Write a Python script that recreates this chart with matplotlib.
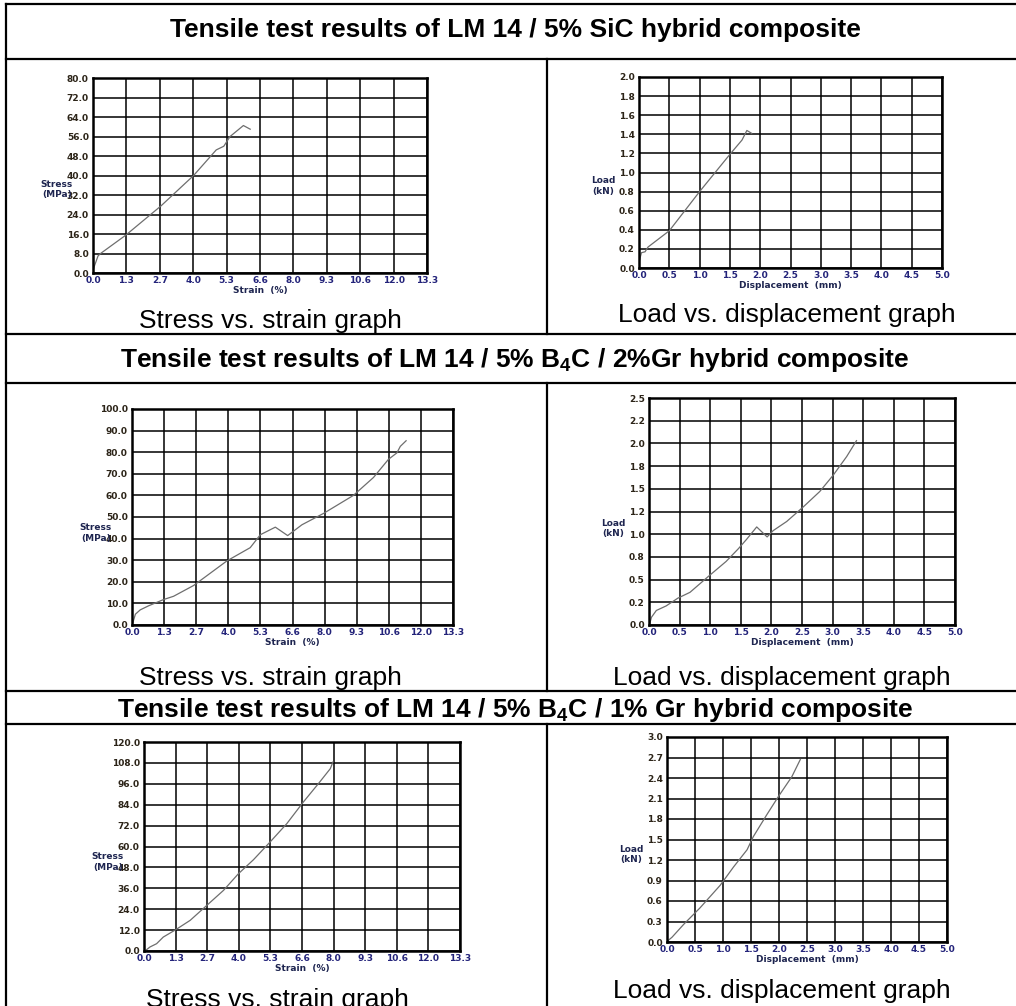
import numpy as np
import matplotlib
matplotlib.use('Agg')
import matplotlib.pyplot as plt
from matplotlib.lines import Line2D

plt.rcParams['mathtext.fontset'] = 'custom'
plt.rcParams['mathtext.rm'] = 'Liberation Sans'
plt.rcParams['mathtext.bf'] = 'Liberation Sans:bold'

W, H = 1016, 1006

# --- row titles and captions ---
titles = [
    'Tensile test results of LM 14 / 5% SiC hybrid composite',
    r'Tensile test results of LM 14 / 5% B$_\mathbf{4}$C / 2%Gr hybrid composite',
    r'Tensile test results of LM 14 / 5% B$_\mathbf{4}$C / 1% Gr hybrid composite',
]
cap_stress = 'Stress vs. strain graph'
cap_load = 'Load vs. displacement graph'

# --- tick labels ---
strain_ticks = ['0.0', '1.3', '2.7', '4.0', '5.3', '6.6', '8.0', '9.3', '10.6', '12.0', '13.3']
disp_ticks = ['0.0', '0.5', '1.0', '1.5', '2.0', '2.5', '3.0', '3.5', '4.0', '4.5', '5.0']
stress_ticks_sic = ['0.0', '8.0', '16.0', '24.0', '32.0', '40.0', '48.0', '56.0', '64.0', '72.0', '80.0']
stress_ticks_gr2 = ['0.0', '10.0', '20.0', '30.0', '40.0', '50.0', '60.0', '70.0', '80.0', '90.0', '100.0']
stress_ticks_gr1 = ['0.0', '12.0', '24.0', '36.0', '48.0', '60.0', '72.0', '84.0', '96.0', '108.0', '120.0']
load_ticks_sic = ['0.0', '0.2', '0.4', '0.6', '0.8', '1.0', '1.2', '1.4', '1.6', '1.8', '2.0']
load_ticks_gr2 = ['0.0', '0.2', '0.5', '0.8', '1.0', '1.2', '1.5', '1.8', '2.0', '2.2', '2.5']
load_ticks_gr1 = ['0.0', '0.3', '0.6', '0.9', '1.2', '1.5', '1.8', '2.1', '2.4', '2.7', '3.0']

# --- curves ---
# LM 14 / 5% SiC
strain_sic = [0.03, 0.05, 0.2, 0.3, 1.3, 2.7, 4.0, 4.9, 5.2, 5.45, 5.98, 6.25]
stress_sic = [2.0, 2.7, 7.0, 8.0, 15.5, 27.5, 40.0, 50.5, 52.0, 56.0, 60.5, 59.0]
disp_sic = [0.0, 0.04, 0.1, 0.15, 0.5, 1.0, 1.5, 1.7, 1.78, 1.86]
load_sic = [0.06, 0.16, 0.17, 0.22, 0.39, 0.80, 1.19, 1.34, 1.44, 1.41]

# LM 14 / 5% B4C / 2% Gr
strain_gr2 = [0.02, 0.14, 0.34, 0.69, 1.31, 1.72, 2.55, 3.93, 4.89, 5.31, 5.93, 6.44,
              7.03, 7.93, 9.16, 9.99, 10.61, 10.96, 11.1, 11.34]
stress_gr2 = [0.5, 5.0, 7.0, 8.9, 11.8, 13.3, 18.3, 29.7, 35.8, 41.8, 45.3, 41.4,
              46.4, 51.7, 60.0, 68.3, 76.7, 79.7, 82.7, 85.3]
disp_gr2 = [0.01, 0.04, 0.12, 0.28, 0.47, 0.67, 0.97, 1.26, 1.46, 1.59, 1.76, 1.93,
            2.03, 2.25, 2.52, 2.79, 3.01, 3.23, 3.39]
load_gr2 = [0.01, 0.085, 0.16, 0.21, 0.295, 0.36, 0.535, 0.70, 0.84, 0.94, 1.08, 0.97,
            1.04, 1.14, 1.30, 1.47, 1.65, 1.855, 2.03]

# LM 14 / 5% B4C / 1% Gr
strain_gr1 = [0.04, 0.25, 0.53, 0.81, 1.33, 1.94, 2.64, 3.34, 3.97, 4.6, 5.3, 6.0,
              6.7, 7.33, 7.83, 7.94]
stress_gr1 = [0.0, 2.3, 4.2, 8.0, 12.2, 17.6, 26.2, 34.8, 44.4, 52.4, 62.6, 73.1,
              85.6, 96.1, 104.7, 108.5]
disp_gr1 = [0.01, 0.09, 0.30, 0.59, 0.95, 1.19, 1.43, 1.54, 1.78, 1.99, 2.23, 2.38]
load_gr1 = [0.015, 0.07, 0.26, 0.50, 0.83, 1.10, 1.35, 1.54, 1.86, 2.13, 2.42, 2.67]

fig = plt.figure(figsize=(W / 100, H / 100), dpi=100)


def fx(px):
    return px / W


def fy(py):
    return 1 - py / H


def hline(y, x0=6, x1=1016):
    fig.add_artist(Line2D([fx(x0), fx(x1)], [fy(y), fy(y)], color='black', lw=1.6))


def vline(x, y0, y1):
    fig.add_artist(Line2D([fx(x), fx(x)], [fy(y0), fy(y1)], color='black', lw=1.6))


def panel(box, x, y, xmax, ymax, xticks, yticks, xlabel, ylabel):
    left, right, top, bottom = box
    ax = fig.add_axes([fx(left), fy(bottom), fx(right - left), (bottom - top) / H])
    ax.plot(x, y, color='#6e6e6e', lw=0.9)
    ax.set_xlim(0, xmax)
    ax.set_ylim(0, ymax)
    ax.set_xticks(np.linspace(0, xmax, 11))
    ax.set_xticklabels(xticks)
    ax.set_yticks(np.linspace(0, ymax, 11))
    ax.set_yticklabels(yticks)
    ax.grid(True, color='black', lw=1.1)
    ax.tick_params(length=0, labelsize=6.5)
    ax.tick_params(axis='x', pad=2, labelcolor='#23237a')
    ax.tick_params(axis='y', pad=3, labelcolor='#2c2418')
    for lab in ax.get_xticklabels() + ax.get_yticklabels():
        lab.set_fontweight('bold')
    for s in ax.spines.values():
        s.set_linewidth(1.8)
    ax.set_xlabel(xlabel, fontsize=6.5, fontweight='bold', color='#1e2550', labelpad=1)
    ax.annotate(ylabel, xy=(0, 0.4), xycoords='axes fraction', xytext=(-26, 4),
                textcoords='offset points', ha='center', va='center', fontsize=6.5,
                fontweight='bold', color='#1e2550', multialignment='center')
    return ax


# row 1
panel((93, 427, 78, 273), strain_sic, stress_sic, 13.28, 80, strain_ticks, stress_ticks_sic,
      'Strain  (%)', 'Stress\n(MPa)')
panel((639, 942, 77, 268), disp_sic, load_sic, 5.0, 2.0, disp_ticks, load_ticks_sic,
      'Displacement  (mm)', 'Load\n(kN)')
# row 2
panel((132, 453, 409, 625), strain_gr2, stress_gr2, 13.28, 100, strain_ticks, stress_ticks_gr2,
      'Strain  (%)', 'Stress\n(MPa)')
panel((649, 955, 398, 625), disp_gr2, load_gr2, 5.0, 2.5, disp_ticks, load_ticks_gr2,
      'Displacement  (mm)', 'Load\n(kN)')
# row 3
panel((144, 460, 742, 951), strain_gr1, stress_gr1, 13.28, 120, strain_ticks, stress_ticks_gr1,
      'Strain  (%)', 'Stress\n(MPa)')
panel((667, 947, 737, 942), disp_gr1, load_gr1, 5.0, 3.0, disp_ticks, load_ticks_gr1,
      'Displacement  (mm)', 'Load\n(kN)')

# table frame
hline(4)
vline(6, 4, 1006)
for y in (59, 334, 383, 691, 724):
    hline(y)
vline(547, 59, 334)
vline(547, 383, 691)
vline(547, 724, 1006)

# titles
for title, base in zip(titles, (37, 367, 717)):
    fig.text(fx(515), fy(base), title, ha='center', va='baseline', fontsize=19,
             fontweight='bold', family='Liberation Sans')

# captions
for (cx, base, txt) in [(270, 328, cap_stress), (787, 322, cap_load),
                        (270, 685, cap_stress), (782, 685, cap_load),
                        (277, 1007, cap_stress), (782, 998, cap_load)]:
    fig.text(fx(cx), fy(base), txt, ha='center', va='baseline', fontsize=19,
             family='Liberation Sans')

fig.savefig('out.png', dpi=100)
